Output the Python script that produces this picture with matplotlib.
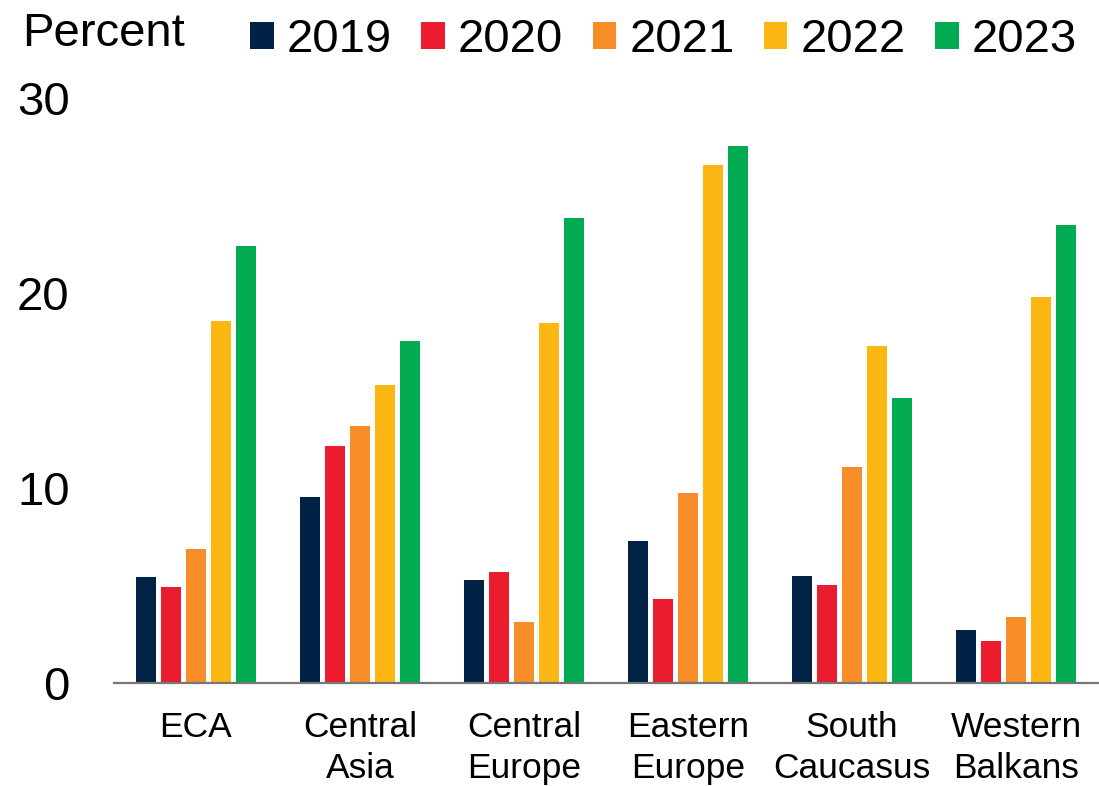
import matplotlib
matplotlib.use("Agg")
import matplotlib.pyplot as plt
import numpy as np
from matplotlib.patches import Patch

plt.rcParams['font.family'] = ['Liberation Sans', 'DejaVu Sans']

categories = ["ECA", "Central\nAsia", "Central\nEurope", "Eastern\nEurope", "South\nCaucasus", "Western\nBalkans"]
years = ["2019", "2020", "2021", "2022", "2023"]
v2019 = [5.45, 9.55, 5.3, 7.28, 5.47, 2.7]
v2020 = [4.9, 12.15, 5.68, 4.3, 5.01, 2.17]
v2021 = [6.88, 13.2, 3.12, 9.75, 11.08, 3.37]
v2022 = [18.58, 15.3, 18.45, 26.55, 17.27, 19.78]
v2023 = [22.4, 17.55, 23.83, 27.54, 14.6, 23.5]
series = [v2019, v2020, v2021, v2022, v2023]
colors = ["#002244", "#EB1C2D", "#F78D28", "#FDB714", "#00AB51"]

fig = plt.figure(figsize=(10.99, 7.86), dpi=100)
ax = fig.add_axes([114/1099, (786-683)/786, 984/1099, (683-98)/786])

x = np.arange(len(categories))
step = 0.152
width = 0.125
for i, (vals, c) in enumerate(zip(series, colors)):
    ax.bar(x + (i - 2) * step, vals, width=width, color=c, zorder=2)

ax.set_xlim(-0.5, len(categories) - 0.5)
ax.set_ylim(0, 30)
ax.set_yticks([0, 10, 20, 30])
ax.set_xticks(x)
ax.set_xticklabels(categories, fontsize=25.5, linespacing=1.32)
ax.tick_params(axis='x', length=0, pad=20)
ax.tick_params(axis='y', length=0, pad=32, labelsize=34)
for s in ['top', 'right', 'left']:
    ax.spines[s].set_visible(False)
ax.spines['bottom'].set_color('#777777')
ax.spines['bottom'].set_linewidth(1.6)
ax.spines['bottom'].set_zorder(3)

fig.text(22/1099, 1 - 34/786, "Percent", fontsize=34, ha='left', va='center')

handles = [Patch(facecolor=c, edgecolor='none') for c in colors]
fig.legend(handles, years, loc='center left', bbox_to_anchor=(250/1099, 1 - 40/786),
           ncol=5, frameon=False, fontsize=34, handlelength=0.5, handleheight=0.5,
           handletextpad=0.28, columnspacing=0.62, borderpad=0, borderaxespad=0)

fig.savefig("out.png", dpi=100)
